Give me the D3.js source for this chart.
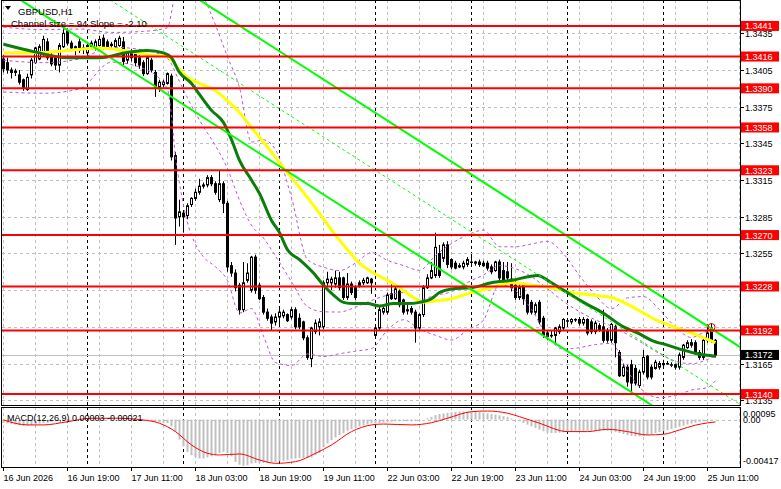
<!DOCTYPE html>
<html>
<head>
<meta charset="utf-8">
<script src="https://cdn.jsdelivr.net/npm/d3@7"></script>
<style>
  body { margin: 0; background: #fff; }
  text { font-family: "Liberation Sans", Arial, sans-serif; font-size: 9px; }
</style>
</head>
<body>
<script>
// GBPUSD H1, first bar 16 Jun 2026 03:00
// [open, high, low, close]
const ohlc = [
  [1.3414,1.3417,1.3403,1.3406],[1.3411,1.3415,1.3402,1.3405],[1.3405,1.3407,1.3398,1.3403],[1.3403,1.3406,1.3400,1.3404],
  [1.3401,1.3405,1.3393,1.3395],[1.3397,1.3398,1.3388,1.3390],[1.3389,1.3402,1.3388,1.3399],[1.3401,1.3415,1.3398,1.3413],
  [1.3411,1.3424,1.3410,1.3423],[1.3414,1.3426,1.3413,1.3424],[1.3418,1.3433,1.3416,1.3430],[1.3428,1.3431,1.3413,1.3415],
  [1.3417,1.3420,1.3408,1.3410],[1.3415,1.3416,1.3405,1.3409],[1.3409,1.3427,1.3403,1.3425],[1.3424,1.3441,1.3423,1.3435],
  [1.3437,1.3439,1.3425,1.3427],[1.3427,1.3429,1.3421,1.3423],[1.3423,1.3425,1.3417,1.3424],[1.3428,1.3431,1.3419,1.3421],
  [1.3423,1.3426,1.3418,1.3422],[1.3419,1.3428,1.3417,1.3425],[1.3424,1.3429,1.3422,1.3427],[1.3423,1.3430,1.3421,1.3428],
  [1.3425,1.3433,1.3424,1.3430],[1.3431,1.3434,1.3422,1.3424],[1.3428,1.3430,1.3422,1.3424],[1.3426,1.3428,1.3423,1.3425],
  [1.3424,1.3431,1.3423,1.3429],[1.3425,1.3433,1.3424,1.3431],[1.3428,1.3432,1.3409,1.3412],[1.3413,1.3421,1.3410,1.3419],
  [1.3420,1.3422,1.3412,1.3415],[1.3419,1.3420,1.3408,1.3411],[1.3415,1.3417,1.3406,1.3409],[1.3411,1.3413,1.3400,1.3402],
  [1.3402,1.3416,1.3401,1.3415],[1.3413,1.3415,1.3403,1.3405],[1.3403,1.3405,1.3383,1.3391],[1.3391,1.3397,1.3387,1.3395],
  [1.3393,1.3397,1.3390,1.3395],[1.3394,1.3403,1.3393,1.3402],[1.3400,1.3402,1.3331,1.3334],[1.3335,1.3338,1.3262,1.3284],
  [1.3285,1.3299,1.3277,1.3289],[1.3288,1.3290,1.3272,1.3285],[1.3286,1.3296,1.3283,1.3294],[1.3295,1.3301,1.3293,1.3300],
  [1.3300,1.3308,1.3298,1.3305],[1.3305,1.3316,1.3303,1.3310],[1.3311,1.3313,1.3308,1.3310],[1.3311,1.3319,1.3309,1.3317],
  [1.3317,1.3319,1.3310,1.3312],[1.3312,1.3314,1.3303,1.3305],[1.3299,1.3323,1.3297,1.3312],[1.3312,1.3314,1.3288,1.3296],
  [1.3296,1.3298,1.3240,1.3244],[1.3245,1.3248,1.3236,1.3239],[1.3239,1.3242,1.3224,1.3227],[1.3229,1.3231,1.3205,1.3209],
  [1.3209,1.3248,1.3207,1.3231],[1.3233,1.3247,1.3231,1.3239],[1.3225,1.3253,1.3223,1.3252],[1.3252,1.3254,1.3222,1.3225],
  [1.3229,1.3231,1.3217,1.3218],[1.3219,1.3221,1.3205,1.3207],[1.3207,1.3210,1.3200,1.3202],[1.3203,1.3205,1.3192,1.3198],
  [1.3199,1.3206,1.3196,1.3203],[1.3203,1.3210,1.3196,1.3207],[1.3204,1.3209,1.3202,1.3207],[1.3205,1.3206,1.3199,1.3200],
  [1.3203,1.3211,1.3201,1.3209],[1.3209,1.3211,1.3193,1.3195],[1.3202,1.3206,1.3193,1.3195],[1.3199,1.3200,1.3184,1.3186],
  [1.3186,1.3188,1.3168,1.3170],[1.3169,1.3195,1.3162,1.3194],[1.3191,1.3201,1.3189,1.3198],[1.3195,1.3202,1.3188,1.3199],
  [1.3195,1.3233,1.3193,1.3231],[1.3231,1.3240,1.3228,1.3234],[1.3231,1.3236,1.3225,1.3234],[1.3230,1.3241,1.3227,1.3235],
  [1.3235,1.3240,1.3225,1.3227],[1.3235,1.3236,1.3217,1.3219],[1.3219,1.3239,1.3217,1.3230],[1.3230,1.3232,1.3221,1.3223],
  [1.3227,1.3229,1.3217,1.3219],[1.3229,1.3233,1.3227,1.3231],[1.3231,1.3235,1.3229,1.3233],[1.3231,1.3236,1.3230,1.3235],
  [1.3234,1.3235,1.3222,1.3231],[1.3188,1.3195,1.3186,1.3194],[1.3194,1.3212,1.3192,1.3209],[1.3207,1.3213,1.3205,1.3210],
  [1.3207,1.3223,1.3205,1.3221],[1.3222,1.3231,1.3217,1.3218],[1.3218,1.3229,1.3217,1.3226],[1.3224,1.3226,1.3211,1.3213],
  [1.3217,1.3218,1.3205,1.3207],[1.3209,1.3213,1.3205,1.3208],[1.3210,1.3212,1.3205,1.3207],[1.3207,1.3209,1.3182,1.3194],
  [1.3194,1.3206,1.3192,1.3205],[1.3205,1.3229,1.3203,1.3227],[1.3227,1.3238,1.3226,1.3235],[1.3235,1.3248,1.3234,1.3241],
  [1.3237,1.3272,1.3235,1.3260],[1.3255,1.3262,1.3235,1.3237],[1.3251,1.3264,1.3248,1.3262],[1.3262,1.3265,1.3243,1.3246],
  [1.3250,1.3251,1.3242,1.3244],[1.3247,1.3249,1.3242,1.3243],[1.3244,1.3247,1.3243,1.3245],[1.3244,1.3249,1.3242,1.3247],
  [1.3246,1.3252,1.3244,1.3250],[1.3248,1.3254,1.3245,1.3248],[1.3248,1.3249,1.3245,1.3247],[1.3248,1.3250,1.3244,1.3246],
  [1.3247,1.3249,1.3244,1.3245],[1.3247,1.3249,1.3241,1.3243],[1.3244,1.3246,1.3238,1.3240],[1.3241,1.3249,1.3240,1.3248],
  [1.3248,1.3250,1.3233,1.3235],[1.3241,1.3248,1.3231,1.3233],[1.3240,1.3248,1.3232,1.3235],[1.3234,1.3247,1.3224,1.3227],
  [1.3229,1.3233,1.3217,1.3219],[1.3219,1.3230,1.3217,1.3227],[1.3229,1.3231,1.3213,1.3218],[1.3221,1.3222,1.3205,1.3207],
  [1.3215,1.3217,1.3205,1.3207],[1.3207,1.3215,1.3205,1.3213],[1.3215,1.3217,1.3197,1.3199],[1.3202,1.3204,1.3186,1.3188],
  [1.3190,1.3192,1.3184,1.3187],[1.3188,1.3192,1.3186,1.3188],[1.3188,1.3195,1.3181,1.3194],[1.3191,1.3197,1.3189,1.3195],
  [1.3194,1.3202,1.3192,1.3201],[1.3200,1.3202,1.3197,1.3200],[1.3199,1.3202,1.3197,1.3201],[1.3201,1.3202,1.3199,1.3201],
  [1.3201,1.3203,1.3196,1.3198],[1.3198,1.3203,1.3196,1.3201],[1.3201,1.3202,1.3188,1.3190],[1.3199,1.3201,1.3189,1.3191],
  [1.3191,1.3200,1.3189,1.3198],[1.3196,1.3198,1.3191,1.3192],[1.3195,1.3209,1.3182,1.3184],[1.3192,1.3194,1.3182,1.3184],
  [1.3184,1.3198,1.3182,1.3197],[1.3195,1.3197,1.3170,1.3182],[1.3174,1.3176,1.3154,1.3155],[1.3155,1.3165,1.3154,1.3162],
  [1.3162,1.3164,1.3146,1.3150],[1.3164,1.3168,1.3141,1.3149],[1.3161,1.3164,1.3147,1.3149],[1.3147,1.3160,1.3145,1.3158],
  [1.3158,1.3176,1.3156,1.3170],[1.3171,1.3172,1.3152,1.3154],[1.3162,1.3164,1.3152,1.3154],[1.3161,1.3168,1.3160,1.3166],
  [1.3162,1.3167,1.3160,1.3165],[1.3164,1.3168,1.3162,1.3165],[1.3165,1.3167,1.3164,1.3165],[1.3164,1.3166,1.3162,1.3164],
  [1.3164,1.3165,1.3160,1.3162],[1.3162,1.3174,1.3160,1.3172],[1.3170,1.3181,1.3168,1.3180],[1.3178,1.3184,1.3177,1.3182],
  [1.3180,1.3185,1.3178,1.3182],[1.3182,1.3184,1.3172,1.3174],[1.3174,1.3176,1.3168,1.3170],[1.3170,1.3185,1.3168,1.3184],
  [1.3184,1.3197,1.3182,1.3190],[1.3194,1.3198,1.3182,1.3184],[1.3184,1.3185,1.3170,1.3172]
];

// moving averages: [bar, price]
const maFast = [
  [0,1.3426],[7.5,1.3420],[16,1.3415],[24,1.3415],[32,1.3420],[36,1.3421],[40,1.3419],[42,1.3415],[44,1.3403],
  [47,1.3394],[49,1.3385],[52,1.3372],[55,1.3362],[57,1.3348],[59,1.3331],[62,1.3315],[64,1.3304],[67,1.3282],
  [69,1.3272],[71,1.3258],[74,1.3250],[77.5,1.3239],[80,1.3229],[82.5,1.3221],[85,1.3215],[87.5,1.3214],[91,1.3214],
  [94,1.3212],[97.5,1.3214],[101,1.3214],[104,1.3215],[107,1.3218],[109,1.3223],[112,1.3226],[117,1.3227],[122,1.3231],
  [127,1.3233],[133.5,1.3237],[137,1.3231],[140,1.3225],[145,1.3215],[150,1.3206],[155,1.3195],[158.5,1.3190],
  [162,1.3184],[166,1.3180],[170,1.3176],[173.5,1.3173],[178,1.3171]
];
const maSlow = [
  [0,1.3419],[7.5,1.3419],[16,1.3421],[24,1.3423],[32,1.3420],[37,1.3417],[41,1.3416],[43.5,1.3407],[46,1.3399],
  [49,1.3394],[52.5,1.3389],[56,1.3380],[58.5,1.3372],[62,1.3358],[66,1.3342],[70,1.3325],[74,1.3309],[78.5,1.3290],
  [82.5,1.3272],[86,1.3258],[89,1.3247],[92.5,1.3239],[96,1.3233],[99,1.3227],[102.5,1.3219],[105,1.3215],[107.5,1.3216],
  [112,1.3218],[117,1.3223],[122,1.3227],[127,1.3231],[132,1.3229],[137,1.3227],[142,1.3223],[147,1.3221],[152,1.3219],
  [155,1.3215],[158.5,1.3209],[163.5,1.3200],[168.5,1.3194],[173.5,1.3188],[178,1.3182]
];

// bollinger bands (purple dashed), [bar, price]
const bandUpper = [
  [0,1.3440],[10,1.3438],[19,1.34385],[27,1.34357],[35,1.34366],[41,1.34395],[42,1.34522],[43,1.34712],[44,1.34788],
  [46,1.34841],[48,1.34769],[50,1.34649],[53,1.34418],[56,1.34157],[59,1.33906],[62,1.33460],[65,1.33478],[68,1.33398],
  [72,1.33006],[76,1.32500],[80,1.32438],[84,1.32410],[88,1.32471],[92,1.32557],[96,1.32493],[100,1.32451],[104,1.32412],
  [108,1.32534],[112,1.32631],[116,1.32701],[120,1.32741],[124,1.32605],[128,1.32604],[132,1.32627],[136,1.32649],
  [140,1.32547],[144,1.32368],[148,1.32209],[152,1.32098],[156,1.32187],[160,1.32197],[164,1.32090],[168,1.31948],
  [172,1.31863],[176,1.31912],[178,1.31913]
];
const bandMid = [
  [0,1.3413],[10,1.3411],[19,1.34141],[27,1.34236],[35,1.34214],[41,1.34145],[42,1.34098],[43,1.34026],[44,1.33956],
  [46,1.33821],[48,1.33697],[50,1.33585],[53,1.33430],[56,1.33243],[59,1.32985],[62,1.32780],[65,1.32676],[68,1.32528],
  [72,1.32320],[76,1.32115],[80,1.32073],[84,1.32071],[88,1.32111],[92,1.32165],[96,1.32209],[100,1.32230],[104,1.32172],
  [108,1.32208],[112,1.32237],[116,1.32313],[120,1.32374],[124,1.32450],[128,1.32425],[132,1.32360],[136,1.32261],
  [140,1.32157],[144,1.32074],[148,1.32007],[152,1.31956],[156,1.31887],[160,1.31811],[164,1.31731],[168,1.31669],
  [172,1.31648],[176,1.31683],[178,1.31712]
];
const bandLower = [
  [0,1.3387],[10,1.3386],[19,1.33896],[27,1.34114],[35,1.34062],[41,1.33894],[42,1.33674],[43,1.33340],[44,1.33123],
  [46,1.32801],[48,1.32624],[50,1.32521],[53,1.32441],[56,1.32328],[59,1.32063],[62,1.32100],[65,1.31874],[68,1.31658],
  [72,1.31634],[76,1.31728],[80,1.31707],[84,1.31730],[88,1.31751],[92,1.31772],[96,1.31924],[100,1.32008],[104,1.31931],
  [108,1.31881],[112,1.31842],[116,1.31924],[120,1.32006],[124,1.32294],[128,1.32246],[132,1.32093],[136,1.31873],
  [140,1.31767],[144,1.31780],[148,1.31805],[152,1.31814],[156,1.31587],[160,1.31425],[164,1.31370],[168,1.31389],
  [172,1.31433],[176,1.31453],[178,1.31510]
];

// MACD(12,26,9) main values, units of 0.00001
const macdMain = [
  -30,-35,-40,-45,-50,-55,-55,-50,-40,-35,-30,-25,-20,-15,-12,-10,-8,-6,-5,
  -3,-2,0,2,3,3,2,2,1,0,0,-2,-4,-5,-6,-8,
  -10,-13,-16,-20,-24,-28,-32,
  -60,-110,-180,-240,-290,-320,-340,-350,-350,-340,-330,-320,-300,-290,-300,-330,-380,
  -405,-415,-410,-395,-390,-390,-390,-390,-385,-380,-375,-370,-365,-355,-350,-345,-345,-345,-340,-320,-300,
  -250,-215,-185,-160,-140,-120,-100,-85,-75,-60,-50,-40,-35,-35,-30,-25,-20,-18,-15,-15,-15,-15,-15,-15,-10,
  0,10,25,40,50,55,60,65,70,72,72,72,70,70,68,62,55,50,45,38,30,22,10,0,
  -15,-30,-45,-60,-75,-90,-105,-115,-120,-120,-118,-115,-110,-105,-100,-100,-100,-100,-100,-100,-100,-100,-102,-105,-110,
  -120,-130,-140,-148,-150,-150,-148,-140,-130,-120,-112,-105,-95,-85,-75,-65,-55,-45,-35,-28,-20,-15,-8,-3,3
];
// signal line: [bar, value in 0.00001]
const macdSignal = [
  [0,-4],[6,-48],[10,-48],[16,-19],[22,12],[28,12],[35,-4],[39,-33],[43,-108],[47,-228],[51,-303],[54,-318],
  [59,-309],[64,-363],[68,-393],[73,-378],[78,-303],[82,-228],[87,-108],[92,-48],[95,-40],[102,-48],[107,-28],
  [111,12],[117,71],[121,77],[126,57],[129,26],[134,-33],[141,-108],[146,-108],[151,-87],[156,-108],[161,-138],
  [165,-132],[169,-93],[173,-50],[176,-30],[178,-21]
];

const levels = [1.3441, 1.3416, 1.3390, 1.3358, 1.3323, 1.3270, 1.3228, 1.3192, 1.3140];
const priceTicks = [1.3435, 1.3405, 1.3375, 1.3345, 1.3315, 1.3285, 1.3255, 1.3225, 1.3195, 1.3165, 1.3135];
const bid = 1.3172;
const timeTicks = [
  [0,"16 Jun 2026"],[16,"16 Jun 19:00"],[32,"17 Jun 11:00"],[48,"18 Jun 03:00"],[64,"18 Jun 19:00"],
  [80,"19 Jun 11:00"],[96,"22 Jun 03:00"],[112,"22 Jun 19:00"],[128,"23 Jun 11:00"],[144,"24 Jun 03:00"],
  [160,"24 Jun 19:00"],[176,"25 Jun 11:00"]
];
const dayStarts = [21, 45, 69, 93, 117, 141, 165];
// regression channel: size 94 pips, slope -2.10 pips per bar, middle anchored at bar 112
const channel = { size: 0.0094, slope: -0.00021, anchorBar: 112, anchorPrice: 1.3283 };
const marker = { bar: 177, price: 1.3194 };

const W = 781, H = 489;
const svg = d3.select("body").append("svg").attr("width", W).attr("height", H);

const x = d3.scaleLinear().domain([0, 178]).range([3.5, 715.5]);
const y = d3.scaleLinear().domain([1.3135, 1.3435]).range([400.2, 33.3]);
const ym = d3.scaleLinear().domain([-0.00417, 0.00095]).range([466, 409]);

const defs = svg.append("defs");
defs.append("clipPath").attr("id", "mainClip").append("rect").attr("x", 2).attr("y", 1).attr("width", 738).attr("height", 404);
defs.append("clipPath").attr("id", "macdClip").append("rect").attr("x", 2).attr("y", 408).attr("width", 738).attr("height", 59);

const main = svg.append("g").attr("clip-path", "url(#mainClip)");
const macdG = svg.append("g").attr("clip-path", "url(#macdClip)");

// grid
const gridBars = d3.range(0, 185, 8);
[main, macdG].forEach((g, k) => {
  const y0 = k === 0 ? 0 : 407, y1 = k === 0 ? 405 : 467;
  g.selectAll(".vg").data(gridBars).enter().append("line")
    .attr("x1", d => x(d)).attr("x2", d => x(d)).attr("y1", y0).attr("y2", y1)
    .attr("stroke", "#c0c0c0").attr("stroke-dasharray", "3,3");
  g.selectAll(".ds").data(dayStarts).enter().append("line")
    .attr("x1", d => x(d)).attr("x2", d => x(d)).attr("y1", y0).attr("y2", y1)
    .attr("stroke", "#000").attr("stroke-dasharray", "3,3");
});
main.selectAll(".hg").data(priceTicks).enter().append("line")
  .attr("x1", 2).attr("x2", 740).attr("y1", d => Math.round(y(d)) + 0.5).attr("y2", d => Math.round(y(d)) + 0.5)
  .attr("stroke", "#c0c0c0").attr("stroke-dasharray", "3,3");

// bid line
main.append("line").attr("x1", 2).attr("x2", 740)
  .attr("y1", Math.round(y(bid)) + 0.5).attr("y2", Math.round(y(bid)) + 0.5).attr("stroke", "#c0c0c0");

// candles
const cg = main.append("g");
ohlc.forEach((c, i) => {
  const [o, h, l, cl] = c;
  const cx = x(i);
  cg.append("line").attr("x1", cx).attr("x2", cx).attr("y1", y(h)).attr("y2", y(l)).attr("stroke", "#000");
  const top = y(Math.max(o, cl)), bot = y(Math.min(o, cl));
  if (cl >= o) {
    cg.append("rect").attr("x", cx - 1).attr("width", 2).attr("y", top).attr("height", Math.max(bot - top, 0.5))
      .attr("fill", "#fff").attr("stroke", "#000");
  } else {
    cg.append("rect").attr("x", cx - 1.5).attr("width", 3).attr("y", top - 0.5).attr("height", Math.max(bot - top + 1, 1))
      .attr("fill", "#000");
  }
});

const line = d3.line().x(d => x(d[0])).y(d => y(d[1])).curve(d3.curveMonotoneX);

// bands
[bandUpper, bandMid, bandLower].forEach(b => {
  main.append("path").attr("d", line(b)).attr("fill", "none")
    .attr("stroke", "#ba55d3").attr("stroke-dasharray", "3,3");
});

// moving averages
main.append("path").attr("d", line(maSlow)).attr("fill", "none").attr("stroke", "#ffff00").attr("stroke-width", 3);
main.append("path").attr("d", line(maFast)).attr("fill", "none").attr("stroke", "#0a7d0a").attr("stroke-width", 3);

// channel
const chAt = (bar, off) => channel.anchorPrice + channel.slope * (bar - channel.anchorBar) + off;
[[channel.size / 2, 2, null], [0, 1, "3,3"], [-channel.size / 2, 2, null]].forEach(([off, w, dash]) => {
  main.append("line")
    .attr("x1", x(-10)).attr("y1", y(chAt(-10, off)))
    .attr("x2", x(190)).attr("y2", y(chAt(190, off)))
    .attr("stroke", "#00ff00").attr("stroke-width", w).attr("stroke-dasharray", dash);
});

// levels
main.selectAll(".lvl").data(levels).enter().append("line")
  .attr("x1", 2).attr("x2", 740).attr("y1", d => y(d)).attr("y2", d => y(d))
  .attr("stroke", "#ff0000").attr("stroke-width", 2);

// marker
main.append("circle").attr("cx", x(marker.bar)).attr("cy", y(marker.price) - 1).attr("r", 3.5)
  .attr("fill", "none").attr("stroke", "#ff0000");

// MACD
macdG.append("line").attr("x1", 2).attr("x2", 740).attr("y1", Math.round(ym(0)) + 0.5).attr("y2", Math.round(ym(0)) + 0.5)
  .attr("stroke", "#c0c0c0").attr("stroke-dasharray", "3,3");
macdG.selectAll(".hb").data(macdMain).enter().append("rect")
  .attr("x", (d, i) => x(i) - 1)
  .attr("width", 2)
  .attr("y", d => Math.min(ym(d * 1e-5), ym(0)))
  .attr("height", d => Math.abs(ym(d * 1e-5) - ym(0)))
  .attr("fill", "#c0c0c0");
macdG.append("path")
  .attr("d", d3.line().x(d => x(d[0])).y(d => ym(d[1] * 1e-5)).curve(d3.curveMonotoneX)(macdSignal))
  .attr("fill", "none").attr("stroke", "#ff0000");

// frames
svg.append("rect").attr("x", 1.5).attr("y", 0.5).attr("width", 739).attr("height", 405).attr("fill", "none").attr("stroke", "#000");
svg.append("rect").attr("x", 1.5).attr("y", 407.5).attr("width", 739).attr("height", 60).attr("fill", "none").attr("stroke", "#000");

// price axis (labels hidden under a level box are skipped)
priceTicks.forEach(p => {
  const yy = Math.round(y(p)) + 0.5;
  svg.append("line").attr("x1", 740).attr("x2", 744).attr("y1", yy).attr("y2", yy).attr("stroke", "#000");
  const covered = levels.some(l => Math.abs(y(l) - y(p)) < 5);
  if (!covered) svg.append("text").attr("x", 745).attr("y", yy + 3.5).text(p.toFixed(4));
});
levels.forEach(p => {
  const yy = y(p);
  svg.append("rect").attr("x", 741).attr("y", yy - 5).attr("width", 38).attr("height", 10).attr("fill", "#ff0000");
  svg.append("text").attr("x", 745).attr("y", yy + 3.5).attr("fill", "#fff").text(p.toFixed(4));
});
svg.append("rect").attr("x", 741).attr("y", y(bid) - 5).attr("width", 38).attr("height", 10).attr("fill", "#000");
svg.append("text").attr("x", 745).attr("y", y(bid) + 3.5).attr("fill", "#fff").text(bid.toFixed(4));

// MACD axis
svg.append("text").attr("x", 743).attr("y", 417).text("0.00095");
svg.append("text").attr("x", 743).attr("y", 423).text("0.00");
svg.append("text").attr("x", 743).attr("y", 464).text("-0.00417");

// time axis
timeTicks.forEach(([b, t]) => {
  svg.append("line").attr("x1", x(b)).attr("x2", x(b)).attr("y1", 467).attr("y2", 471).attr("stroke", "#000");
  svg.append("text").attr("x", x(b)).attr("y", 481).text(t);
});

// headers
svg.append("path").attr("d", "M5,6 L11,6 L8,10 Z").attr("fill", "#000");
svg.append("text").attr("x", 18).attr("y", 15).style("font-size", "9.5px").text("GBPUSD,H1");
svg.append("text").attr("x", 11).attr("y", 27).style("font-size", "9.5px").text("Channel size = 94 Slope = -2.10");
svg.append("text").attr("x", 7).attr("y", 421).text("MACD(12,26,9) 0.00003 -0.00021");
</script>
</body>
</html>
